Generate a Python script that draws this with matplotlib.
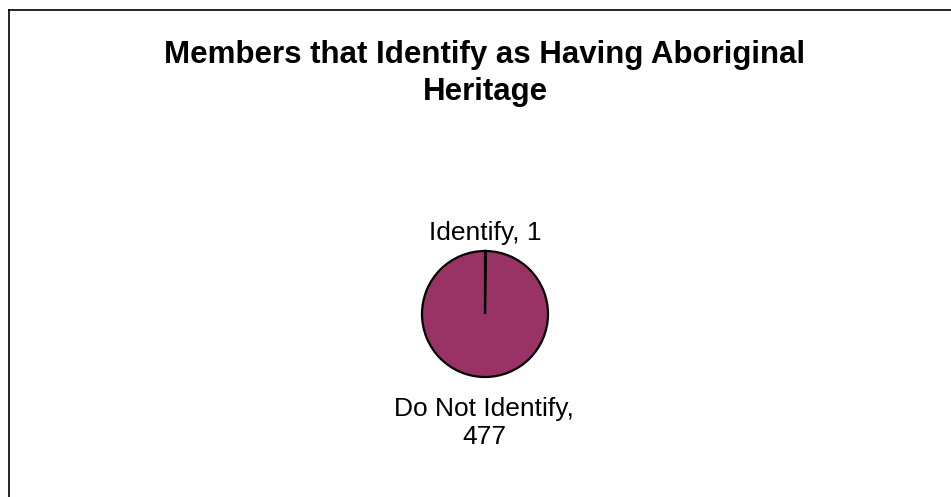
import numpy as np
import matplotlib.pyplot as plt
from matplotlib.lines import Line2D

# members by heritage
categories = ['Identify', 'Do Not Identify']
counts = [1, 477]
title = 'Members that Identify as Having Aboriginal\nHeritage'

plt.rcParams['font.family'] = ['Liberation Sans', 'DejaVu Sans']

fig = plt.figure(figsize=(9.51, 4.97), dpi=100)
ax = fig.add_axes([359 / 951, 57 / 497, 252 / 951, 252 / 497])

labels = [c + ', ' + str(v) for c, v in zip(categories, counts)]
labels[1] = categories[1] + ',\n' + str(counts[1])
wedges, texts = ax.pie(counts, labels=labels, startangle=90, counterclock=False,
                       colors=['#993366', '#993366'], radius=1,
                       wedgeprops={'edgecolor': 'black', 'linewidth': 1.6},
                       textprops={'fontsize': 19})
# label distances differ a bit, Excel style
for t, dist in zip(texts, [1.28, 1.73]):
    x, y = t.get_position()
    ang = np.arctan2(y, x)
    t.set_position((dist * np.cos(ang), dist * np.sin(ang)))
    t.set_ha('center')
    t.set_va('center')
    t.set_multialignment('center')
    t.set_linespacing(1.17)
ax.set_xlim(-2, 2)
ax.set_ylim(-2, 2)
ax.set_aspect('equal')

fig.text(485 / 951, 1 - 40 / 497, title, ha='center', va='top',
         fontsize=22.5, fontweight='bold', linespacing=1.3)

# chart area border (only left and top show)
fig.add_artist(Line2D([9 / 951, 9 / 951], [0, 1 - 10 / 497], color='black', lw=1.2))
fig.add_artist(Line2D([9 / 951, 1], [1 - 10 / 497, 1 - 10 / 497], color='black', lw=1.2))

fig.savefig('out.png', dpi=100)
